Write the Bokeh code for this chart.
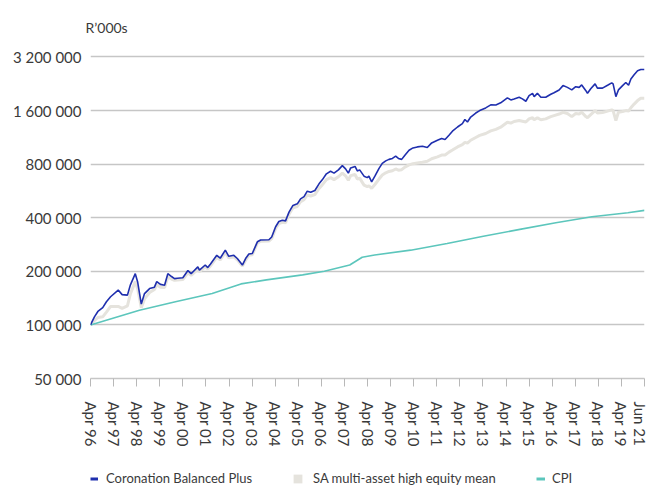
from bokeh.plotting import figure
from bokeh.layouts import column
from bokeh.models import Range1d, FixedTicker, Legend, LegendItem
from bokeh.embed import file_html
from bokeh.resources import INLINE

# ---------------- data ----------------
x_tick_labels = ["Apr 96", "Apr 97", "Apr 98", "Apr 99", "Apr 00", "Apr 01", "Apr 02",
                 "Apr 03", "Apr 04", "Apr 05", "Apr 06", "Apr 07", "Apr 08", "Apr 09",
                 "Apr 10", "Apr 11", "Apr 12", "Apr 13", "Apr 14", "Apr 15", "Apr 16",
                 "Apr 17", "Apr 18", "Apr 19", "Jun 21"]
y_ticks = [50000, 100000, 200000, 400000, 800000, 1600000, 3200000]
y_tick_labels = ["50 000", "100 000", "200 000", "400 000", "800 000", "1 600 000", "3 200 000"]

# position along the labelled time axis (0 = Apr 96 ... 24 = Jun 21)
perf_x = [0, 0.17, 0.32, 0.53, 0.69, 0.87, 1.20, 1.37, 1.60, 1.73,
          1.94, 2.04, 2.20, 2.34, 2.56, 2.77, 2.87, 3.03, 3.21, 3.35,
          3.51, 3.64, 3.77, 4.00, 4.22, 4.36, 4.65, 4.72, 4.97, 5.08,
          5.20, 5.47, 5.62, 5.84,
          5.99, 6.21, 6.36, 6.58, 6.72, 6.86, 7.01, 7.23, 7.37, 7.73,
          7.85, 8.02, 8.16, 8.31, 8.45, 8.60, 8.77, 8.96, 9.10, 9.25,
          9.39, 9.54, 9.72, 9.90, 10.04, 10.22, 10.40, 10.55, 10.74, 10.91,
          11.05, 11.17, 11.27, 11.46, 11.56, 11.66, 11.85,
          11.99, 12.06, 12.18, 12.32, 12.50, 12.64, 12.79, 12.93, 13.08, 13.22,
          13.34, 13.48, 13.62, 13.80, 13.97, 14.16, 14.38, 14.59, 14.78, 15.03,
          15.21, 15.36, 15.53, 15.68, 15.90, 16.11, 16.22, 16.33, 16.47, 16.69,
          16.86, 17.12, 17.34, 17.56, 17.77,
          18.06, 18.21, 18.35, 18.57, 18.71, 18.86, 19.00, 19.15, 19.22, 19.36,
          19.51, 19.72, 19.94, 20.08, 20.30, 20.47, 20.66, 20.85, 21.02, 21.17,
          21.28, 21.46, 21.53, 21.67, 21.86, 21.96, 22.18, 22.40, 22.58, 22.64,
          22.76, 22.87, 23.05, 23.19, 23.31, 23.41, 23.55, 23.70, 23.84, 24.00]

coronation = [100000, 111000, 119000, 125000, 135000, 144000, 157000, 148000, 147000, 168000,
              194000, 175000, 131000, 150000, 160000, 163000, 175000, 169000, 167000, 194000,
              187000, 182000, 183000, 184000, 202000, 194000, 212000, 203000, 217000, 210000,
              220000, 246000, 237000, 263000,
              243000, 246000, 236000, 217000, 236000, 250000, 252000, 293000, 300000, 301000,
              312000, 356000, 381000, 387000, 384000, 430000, 469000, 479000, 511000, 526000,
              564000, 556000, 569000, 620000, 653000, 706000, 730000, 712000, 743000, 785000,
              753000, 712000, 762000, 777000, 733000, 743000, 685000,
              672000, 685000, 637000, 685000, 757000, 808000, 835000, 851000, 862000, 887000,
              862000, 851000, 899000, 958000, 987000, 1000000, 1008000, 992000, 1053000, 1090000,
              1114000, 1100000, 1163000, 1225000, 1294000, 1352000, 1425000, 1381000, 1472000, 1550000,
              1600000, 1656000, 1722000, 1720000, 1770000,
              1885000, 1837000, 1861000, 1900000, 1861000, 1805000, 1941000, 2000000, 1917000, 2000000,
              1900000, 1900000, 1975000, 2016000, 2090000, 2210000, 2160000, 2090000, 2180000, 2160000,
              2229000, 2070000, 2000000, 2120000, 2260000, 2140000, 2140000, 2220000, 2290000, 2260000,
              1917000, 2090000, 2210000, 2300000, 2220000, 2408000, 2546000, 2682000, 2720000, 2720000]

sa_mean = [100000, 106000, 110000, 111000, 118000, 127000, 127000, 124000, 128000, 150000,
           175000, 160000, 125000, 140000, 152000, 158000, 168000, 163000, 162000, 186000,
           181000, 178000, 179000, 180000, 196000, 190000, 206000, 199000, 212000, 206000,
           215000, 240000, 232000, 256000,
           238000, 241000, 232000, 214000, 231000, 246000, 248000, 288000, 295000, 296000,
           305000, 348000, 371000, 377000, 375000, 418000, 455000, 463000, 492000, 505000,
           538000, 530000, 540000, 585000, 612000, 655000, 672000, 655000, 680000, 713000,
           688000, 650000, 690000, 700000, 660000, 668000, 610000,
           598000, 605000, 585000, 615000, 660000, 695000, 715000, 728000, 735000, 752000,
           740000, 745000, 770000, 792000, 805000, 812000, 820000, 830000, 858000, 880000,
           900000, 900000, 935000, 960000, 1000000, 1030000, 1060000, 1050000, 1090000, 1130000,
           1160000, 1190000, 1230000, 1255000, 1290000,
           1376000, 1360000, 1390000, 1406000, 1395000, 1380000, 1437000, 1460000, 1420000, 1460000,
           1420000, 1437000, 1480000, 1500000, 1530000, 1565000, 1540000, 1480000, 1540000, 1530000,
           1565000, 1480000, 1460000, 1520000, 1600000, 1550000, 1560000, 1590000, 1615000, 1600000,
           1406000, 1565000, 1580000, 1600000, 1590000, 1660000, 1740000, 1821000, 1877000, 1877000]

cpi_x = [0, 2.12, 3.68, 5.27, 6.52, 7.62, 9.19, 10.13, 11.23, 11.77,
         12.31, 13.87, 15.45, 17.02, 18.60, 20.16, 21.72, 23.28, 24.00]
cpi = [100000, 121000, 135000, 150000, 170000, 179000, 191000, 200000, 217000, 240000,
       247000, 263000, 287000, 315000, 344000, 375000, 405000, 427000, 440000]

series_names = ["Coronation Balanced Plus", "SA multi-asset high equity mean", "CPI"]

# ---------------- styling ----------------
BLUE = "#1f2fae"
GREY = "#e5e3dd"
TEAL = "#5cc6bc"
TEXT = "#3a3a3a"
GRID = "#c6c6c6"
FONT = "Lato"
W = 648

p = figure(width=W, height=450, y_axis_type="log",
           x_range=Range1d(0, 24), y_range=Range1d(50000, 3761500),
           output_backend="svg", toolbar_location=None,
           min_border_left=90, min_border_right=4, min_border_top=44,
           min_border_bottom=72)
p.outline_line_color = None
p.background_fill_color = "white"

p.title.text = "R\u2019000s"
p.title.text_font = FONT
p.title.text_font_size = "14px"
p.title.text_font_style = "normal"
p.title.text_color = TEXT
p.title.align = "left"
p.title.offset = -5
p.title.standoff = 18

p.line(perf_x, sa_mean, line_color=GREY, line_width=3)
p.line(cpi_x, cpi, line_color=TEAL, line_width=1.6)
p.line(perf_x, coronation, line_color=BLUE, line_width=1.6)

# axes
p.xaxis.ticker = FixedTicker(ticks=list(range(len(x_tick_labels))))
p.xaxis.major_label_overrides = {i: lab for i, lab in enumerate(x_tick_labels)}
p.xaxis.major_label_orientation = "vertical"
p.xaxis.axis_line_color = GRID
p.xaxis.axis_line_width = 1.5
p.xaxis.major_tick_line_color = "#b8b8b8"
p.xaxis.major_tick_out = 8
p.xaxis.major_tick_in = 0
p.xaxis.minor_tick_line_color = None
p.xaxis.major_label_standoff = 15
p.xaxis.major_label_text_font = FONT
p.xaxis.major_label_text_font_size = "15px"
p.xaxis.major_label_text_color = TEXT

p.yaxis.ticker = FixedTicker(ticks=y_ticks, minor_ticks=[])
p.yaxis.major_label_overrides = {t: lab for t, lab in zip(y_ticks, y_tick_labels)}
p.yaxis.axis_line_color = None
p.yaxis.major_tick_line_color = None
p.yaxis.minor_tick_line_color = None
p.yaxis.major_tick_out = 0
p.yaxis.major_tick_in = 0
p.yaxis.major_label_standoff = 9
p.yaxis.major_label_text_font = FONT
p.yaxis.major_label_text_font_size = "15px"
p.yaxis.major_label_text_color = TEXT

p.xgrid.visible = False
p.ygrid.grid_line_color = GRID
p.ygrid.grid_line_width = 1.5

# ---------------- legend strip (frame is aligned with the chart frame) ----------------
# the strip's ranges (0..1) keep the proxy series below out of view; only their legend swatches show
lf = figure(width=W, height=37, x_range=Range1d(0, 1), y_range=Range1d(0, 1),
            output_backend="svg", toolbar_location=None,
            x_axis_location=None, y_axis_location=None,
            min_border_left=0, min_border_right=0, min_border_top=0, min_border_bottom=0)
lf.outline_line_color = None
lf.grid.visible = False

lg_cor = lf.line(perf_x, coronation, line_color=BLUE, line_width=3)
lg_sa = lf.quad(left=perf_x, right=perf_x, top=sa_mean, bottom=sa_mean,
                fill_color=GREY, line_color=None)
lg_cpi = lf.line(cpi_x, cpi, line_color=TEAL, line_width=3)

specs = [(lg_cor, 0, 8, 8), (lg_sa, 202, 11, 10), (lg_cpi, 446, 9, 7)]
for name, (rend, x0, gw, so) in zip(series_names, specs):
    lg = Legend(items=[LegendItem(label=name, renderers=[rend])],
                location=(x0, 1), orientation="horizontal")
    lg.label_text_font = FONT
    lg.label_text_font_size = "13px"
    lg.label_text_color = TEXT
    lg.glyph_width = gw
    lg.glyph_height = 11
    lg.label_height = 16
    lg.label_standoff = so
    lg.padding = 0
    lg.margin = 0
    lg.spacing = 0
    lg.border_line_color = None
    lg.background_fill_alpha = 0
    lf.add_layout(lg)

layout = column(p, lf, spacing=0)
open("out.html", "w").write(file_html(layout, INLINE))
